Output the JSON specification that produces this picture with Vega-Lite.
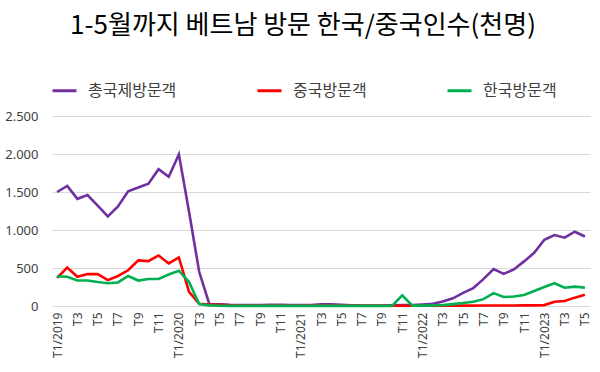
{
  "$schema": "https://vega.github.io/schema/vega-lite/v6.json",
  "autosize": "none",
  "width": 538,
  "height": 190,
  "padding": {"left": 52, "top": 116, "right": 10, "bottom": 66},
  "background": "white",
  "title": {
    "text": "1-5월까지 베트남 방문 한국/중국인수(천명)",
    "font": "Noto Sans CJK KR",
    "fontSize": 26,
    "fontWeight": "normal",
    "color": "#000000",
    "anchor": "middle",
    "frame": "group",
    "dx": -18,
    "offset": 38
  },
  "data": {
    "values": [
      {"m":"2019-01","s":"총국제방문객","v":1500},{"m":"2019-02","s":"총국제방문객","v":1580},{"m":"2019-03","s":"총국제방문객","v":1410},{"m":"2019-04","s":"총국제방문객","v":1460},{"m":"2019-05","s":"총국제방문객","v":1320},{"m":"2019-06","s":"총국제방문객","v":1180},{"m":"2019-07","s":"총국제방문객","v":1310},{"m":"2019-08","s":"총국제방문객","v":1510},{"m":"2019-09","s":"총국제방문객","v":1560},{"m":"2019-10","s":"총국제방문객","v":1610},{"m":"2019-11","s":"총국제방문객","v":1800},{"m":"2019-12","s":"총국제방문객","v":1700},
      {"m":"2020-01","s":"총국제방문객","v":1995},{"m":"2020-02","s":"총국제방문객","v":1240},{"m":"2020-03","s":"총국제방문객","v":450},{"m":"2020-04","s":"총국제방문객","v":25},{"m":"2020-05","s":"총국제방문객","v":22},{"m":"2020-06","s":"총국제방문객","v":15},{"m":"2020-07","s":"총국제방문객","v":14},{"m":"2020-08","s":"총국제방문객","v":14},{"m":"2020-09","s":"총국제방문객","v":14},{"m":"2020-10","s":"총국제방문객","v":15},{"m":"2020-11","s":"총국제방문객","v":15},{"m":"2020-12","s":"총국제방문객","v":14},
      {"m":"2021-01","s":"총국제방문객","v":12},{"m":"2021-02","s":"총국제방문객","v":12},{"m":"2021-03","s":"총국제방문객","v":22},{"m":"2021-04","s":"총국제방문객","v":22},{"m":"2021-05","s":"총국제방문객","v":15},{"m":"2021-06","s":"총국제방문객","v":10},{"m":"2021-07","s":"총국제방문객","v":6},{"m":"2021-08","s":"총국제방문객","v":6},{"m":"2021-09","s":"총국제방문객","v":6},{"m":"2021-10","s":"총국제방문객","v":8},{"m":"2021-11","s":"총국제방문객","v":12},{"m":"2021-12","s":"총국제방문객","v":14},
      {"m":"2022-01","s":"총국제방문객","v":20},{"m":"2022-02","s":"총국제방문객","v":28},{"m":"2022-03","s":"총국제방문객","v":60},{"m":"2022-04","s":"총국제방문객","v":101},{"m":"2022-05","s":"총국제방문객","v":172},{"m":"2022-06","s":"총국제방문객","v":236},{"m":"2022-07","s":"총국제방문객","v":353},{"m":"2022-08","s":"총국제방문객","v":487},{"m":"2022-09","s":"총국제방문객","v":423},{"m":"2022-10","s":"총국제방문객","v":481},{"m":"2022-11","s":"총국제방문객","v":587},{"m":"2022-12","s":"총국제방문객","v":700},
      {"m":"2023-01","s":"총국제방문객","v":871},{"m":"2023-02","s":"총국제방문객","v":933},{"m":"2023-03","s":"총국제방문객","v":899},{"m":"2023-04","s":"총국제방문객","v":977},{"m":"2023-05","s":"총국제방문객","v":915},

      {"m":"2019-01","s":"중국방문객","v":370},{"m":"2019-02","s":"중국방문객","v":505},{"m":"2019-03","s":"중국방문객","v":385},{"m":"2019-04","s":"중국방문객","v":420},{"m":"2019-05","s":"중국방문객","v":420},{"m":"2019-06","s":"중국방문객","v":340},{"m":"2019-07","s":"중국방문객","v":395},{"m":"2019-08","s":"중국방문객","v":470},{"m":"2019-09","s":"중국방문객","v":600},{"m":"2019-10","s":"중국방문객","v":590},{"m":"2019-11","s":"중국방문객","v":665},{"m":"2019-12","s":"중국방문객","v":560},
      {"m":"2020-01","s":"중국방문객","v":640},{"m":"2020-02","s":"중국방문객","v":185},{"m":"2020-03","s":"중국방문객","v":30},{"m":"2020-04","s":"중국방문객","v":20},{"m":"2020-05","s":"중국방문객","v":15},{"m":"2020-06","s":"중국방문객","v":8},{"m":"2020-07","s":"중국방문객","v":5},{"m":"2020-08","s":"중국방문객","v":4},{"m":"2020-09","s":"중국방문객","v":4},{"m":"2020-10","s":"중국방문객","v":4},{"m":"2020-11","s":"중국방문객","v":4},{"m":"2020-12","s":"중국방문객","v":4},
      {"m":"2021-01","s":"중국방문객","v":3},{"m":"2021-02","s":"중국방문객","v":3},{"m":"2021-03","s":"중국방문객","v":3},{"m":"2021-04","s":"중국방문객","v":3},{"m":"2021-05","s":"중국방문객","v":3},{"m":"2021-06","s":"중국방문객","v":3},{"m":"2021-07","s":"중국방문객","v":3},{"m":"2021-08","s":"중국방문객","v":3},{"m":"2021-09","s":"중국방문객","v":3},{"m":"2021-10","s":"중국방문객","v":3},{"m":"2021-11","s":"중국방문객","v":3},{"m":"2021-12","s":"중국방문객","v":3},
      {"m":"2022-01","s":"중국방문객","v":3},{"m":"2022-02","s":"중국방문객","v":3},{"m":"2022-03","s":"중국방문객","v":3},{"m":"2022-04","s":"중국방문객","v":4},{"m":"2022-05","s":"중국방문객","v":5},{"m":"2022-06","s":"중국방문객","v":5},{"m":"2022-07","s":"중국방문객","v":6},{"m":"2022-08","s":"중국방문객","v":7},{"m":"2022-09","s":"중국방문객","v":7},{"m":"2022-10","s":"중국방문객","v":7},{"m":"2022-11","s":"중국방문객","v":8},{"m":"2022-12","s":"중국방문객","v":8},
      {"m":"2023-01","s":"중국방문객","v":12},{"m":"2023-02","s":"중국방문객","v":55},{"m":"2023-03","s":"중국방문객","v":65},{"m":"2023-04","s":"중국방문객","v":110},{"m":"2023-05","s":"중국방문객","v":148},

      {"m":"2019-01","s":"한국방문객","v":390},{"m":"2019-02","s":"한국방문객","v":385},{"m":"2019-03","s":"한국방문객","v":335},{"m":"2019-04","s":"한국방문객","v":335},{"m":"2019-05","s":"한국방문객","v":315},{"m":"2019-06","s":"한국방문객","v":300},{"m":"2019-07","s":"한국방문객","v":310},{"m":"2019-08","s":"한국방문객","v":395},{"m":"2019-09","s":"한국방문객","v":335},{"m":"2019-10","s":"한국방문객","v":355},{"m":"2019-11","s":"한국방문객","v":355},{"m":"2019-12","s":"한국방문객","v":415},
      {"m":"2020-01","s":"한국방문객","v":465},{"m":"2020-02","s":"한국방문객","v":315},{"m":"2020-03","s":"한국방문객","v":25},{"m":"2020-04","s":"한국방문객","v":8},{"m":"2020-05","s":"한국방문객","v":3},{"m":"2020-06","s":"한국방문객","v":2},{"m":"2020-07","s":"한국방문객","v":2},{"m":"2020-08","s":"한국방문객","v":2},{"m":"2020-09","s":"한국방문객","v":2},{"m":"2020-10","s":"한국방문객","v":2},{"m":"2020-11","s":"한국방문객","v":2},{"m":"2020-12","s":"한국방문객","v":2},
      {"m":"2021-01","s":"한국방문객","v":2},{"m":"2021-02","s":"한국방문객","v":2},{"m":"2021-03","s":"한국방문객","v":2},{"m":"2021-04","s":"한국방문객","v":2},{"m":"2021-05","s":"한국방문객","v":2},{"m":"2021-06","s":"한국방문객","v":2},{"m":"2021-07","s":"한국방문객","v":2},{"m":"2021-08","s":"한국방문객","v":2},{"m":"2021-09","s":"한국방문객","v":2},{"m":"2021-10","s":"한국방문객","v":2},{"m":"2021-11","s":"한국방문객","v":140},{"m":"2021-12","s":"한국방문객","v":5},
      {"m":"2022-01","s":"한국방문객","v":5},{"m":"2022-02","s":"한국방문객","v":8},{"m":"2022-03","s":"한국방문객","v":12},{"m":"2022-04","s":"한국방문객","v":25},{"m":"2022-05","s":"한국방문객","v":40},{"m":"2022-06","s":"한국방문객","v":55},{"m":"2022-07","s":"한국방문객","v":90},{"m":"2022-08","s":"한국방문객","v":170},{"m":"2022-09","s":"한국방문객","v":118},{"m":"2022-10","s":"한국방문객","v":125},{"m":"2022-11","s":"한국방문객","v":145},{"m":"2022-12","s":"한국방문객","v":198},
      {"m":"2023-01","s":"한국방문객","v":250},{"m":"2023-02","s":"한국방문객","v":300},{"m":"2023-03","s":"한국방문객","v":240},{"m":"2023-04","s":"한국방문객","v":255},{"m":"2023-05","s":"한국방문객","v":242}
    ]
  },
  "mark": {"type": "line", "strokeWidth": 2.6, "strokeJoin": "miter"},
  "encoding": {
    "x": {
      "field": "m",
      "type": "ordinal",
      "sort": null,
      "scale": {"type": "point", "padding": 0.5},
      "axis": {
        "title": null,
        "labelAngle": -90,
        "labelFont": "Noto Sans",
        "labelFontSize": 12,
        "labelColor": "#404040",
        "labelPadding": 6,
        "ticks": false,
        "domain": false,
        "grid": false,
        "labelOverlap": false,
        "labelExpr": "(toNumber(substring(datum.value,5,7)) % 2 == 0) ? '' : (substring(datum.value,5,7) == '01' ? 'T1/' + substring(datum.value,0,4) : 'T' + toNumber(substring(datum.value,5,7)))"
      }
    },
    "y": {
      "field": "v",
      "type": "quantitative",
      "scale": {"domain": [0, 2500], "nice": false},
      "axis": {
        "title": null,
        "values": [0, 500, 1000, 1500, 2000, 2500],
        "labelExpr": "replace(datum.label, ',', '.')",
        "labelFont": "Noto Sans",
        "labelFontSize": 13,
        "labelColor": "#404040",
        "labelPadding": 14,
        "ticks": false,
        "domain": false,
        "grid": true,
        "gridColor": "#d9d9d9",
        "gridWidth": 1
      }
    },
    "color": {
      "field": "s",
      "type": "nominal",
      "sort": ["총국제방문객", "중국방문객", "한국방문객"],
      "scale": {
        "domain": ["총국제방문객", "중국방문객", "한국방문객"],
        "range": ["#7030A0", "#FF0000", "#00B050"]
      },
      "legend": {
        "title": null,
        "orient": "none",
        "direction": "horizontal",
        "legendX": -1,
        "legendY": -39,
        "symbolType": "stroke",
        "symbolSize": 576,
        "symbolStrokeWidth": 3,
        "labelFont": "Noto Sans CJK KR",
        "labelFontSize": 16,
        "labelColor": "#404040",
        "labelOffset": 10,
        "columnPadding": 74
      }
    }
  },
  "config": {"view": {"stroke": null}}
}
